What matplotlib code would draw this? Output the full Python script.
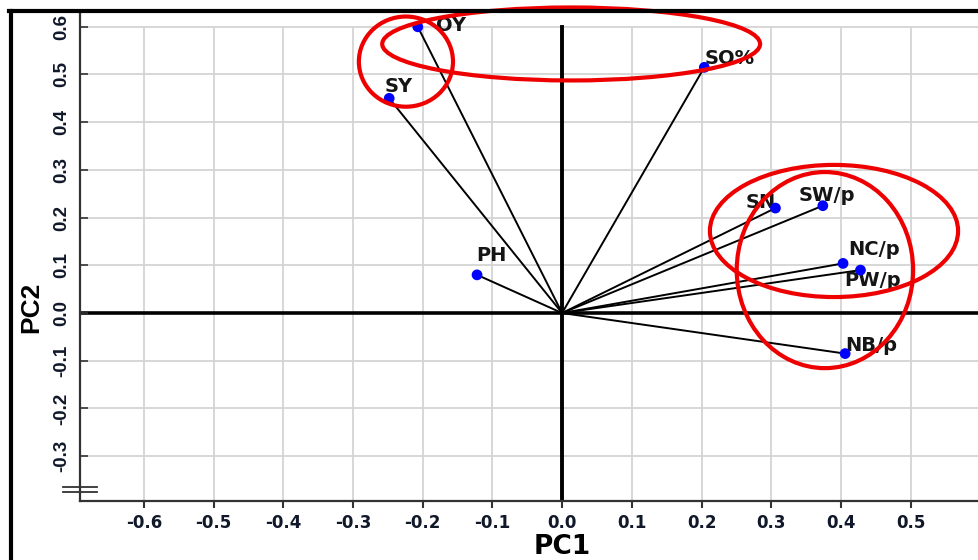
import matplotlib.pyplot as plt
from matplotlib.patches import Ellipse
from matplotlib.lines import Line2D

# loadings of each trait on the first two principal components
variables = ["OY", "SY", "SO%", "PH", "SN", "SW/p", "NC/p", "PW/p", "NB/p"]
pc1 = [-0.207, -0.248, 0.204, -0.122, 0.306, 0.374, 0.403, 0.428, 0.406]
pc2 = [0.600, 0.450, 0.515, 0.080, 0.220, 0.225, 0.104, 0.090, -0.085]

x_ticks = [-0.6, -0.5, -0.4, -0.3, -0.2, -0.1, 0.0, 0.1, 0.2, 0.3, 0.4, 0.5]
y_ticks = [-0.3, -0.2, -0.1, 0.0, 0.1, 0.2, 0.3, 0.4, 0.5, 0.6]

# label baseline offsets from the point, in pixels
label_pos = {
    "OY": (18, -4),
    "SY": (-5, 6),
    "SO%": (0, 3),
    "PH": (-1, 14),
    "SN": (-30, 0),
    "SW/p": (-24, 5),
    "NC/p": (5, 8),
    "PW/p": (-16, -16),
    "NB/p": (0, 3),
}

# groups circled by hand: (center x, center y, width, height)
groups = [
    (-0.224, 0.527, 0.135, 0.189),
    (0.013, 0.564, 0.542, 0.153),
    (0.390, 0.172, 0.356, 0.277),
    (0.377, 0.090, 0.253, 0.411),
]

fig = plt.figure(figsize=(9.79, 5.6), dpi=100)
ax = fig.add_axes([80 / 979, 59 / 560, 899 / 979, 489 / 560])
ax.set_xlim(-0.6915, 0.598)
ax.set_ylim(-0.394, 0.631)

# grid only spans up to the 0.6 row
ax.vlines(x_ticks, -0.394, 0.6, color="#d4d4d4", lw=1.3, zorder=0)
ax.hlines(y_ticks, -0.6915, 0.598, color="#d4d4d4", lw=1.3, zorder=0)

# heavy zero axes
ax.axhline(0, color="black", lw=2.6, zorder=1)
ax.plot([0, 0], [-0.394, 0.6], color="black", lw=2.8, zorder=1)

for x, y in zip(pc1, pc2):
    ax.plot([0, x], [0, y], color="black", lw=1.4, zorder=2)
ax.scatter(pc1, pc2, s=60, color="#0000ff", zorder=4, edgecolors="none")

for name, x, y in zip(variables, pc1, pc2):
    dx, dy = label_pos[name]
    ax.annotate(name, (x, y), xytext=(dx, dy), textcoords="offset pixels",
                ha="left", va="baseline", fontsize=14, fontweight="bold",
                color="#151515", zorder=3)

for cx, cy, w, h in groups:
    ax.add_patch(Ellipse((cx, cy), w, h, fill=False, edgecolor="#ee0000",
                         lw=3, zorder=5, clip_on=False))

ax.set_xticks(x_ticks)
ax.set_xticklabels([f"{t:.1f}" for t in x_ticks])
ax.set_yticks(y_ticks)
ax.set_yticklabels([f"{t:.1f}" for t in y_ticks], rotation=90, va="center",
                   family="Liberation Sans")
ax.tick_params(axis="x", direction="out", length=5, width=1.5, color="#333333",
               pad=4, labelsize=12)
ax.tick_params(axis="y", direction="in", length=6, width=1.2, color="#333333",
               pad=7, labelsize=13.5)
for lab in ax.get_xticklabels() + ax.get_yticklabels():
    lab.set_fontweight("bold")
    lab.set_color("#10182a")

for side in ("top", "right"):
    ax.spines[side].set_visible(False)
for side in ("left", "bottom"):
    ax.spines[side].set_color("#333333")
    ax.spines[side].set_linewidth(1.6)

# axis break marks near the bottom of the y axis
for yb in (0.0286, 0.0184):
    ax.plot([-0.019, 0.019], [yb, yb], transform=ax.transAxes,
            color="#333333", lw=1.3, clip_on=False)

fig.text(562 / 979, 1 - 547 / 560, "PC1", ha="center", va="center",
         fontsize=19, fontweight="bold")
fig.text(31 / 979, 1 - 307 / 560, "PC2", ha="center", va="center",
         rotation=90, fontsize=19, fontweight="bold", family="Liberation Sans")

# outer frame on the left and top
fig.add_artist(Line2D([11 / 979, 11 / 979], [0, 1 - 11 / 560],
                      transform=fig.transFigure, color="black", lw=3))
fig.add_artist(Line2D([9 / 979, 1], [1 - 11 / 560, 1 - 11 / 560],
                      transform=fig.transFigure, color="black", lw=3))

fig.savefig("out.png", dpi=100)
plt.close(fig)
